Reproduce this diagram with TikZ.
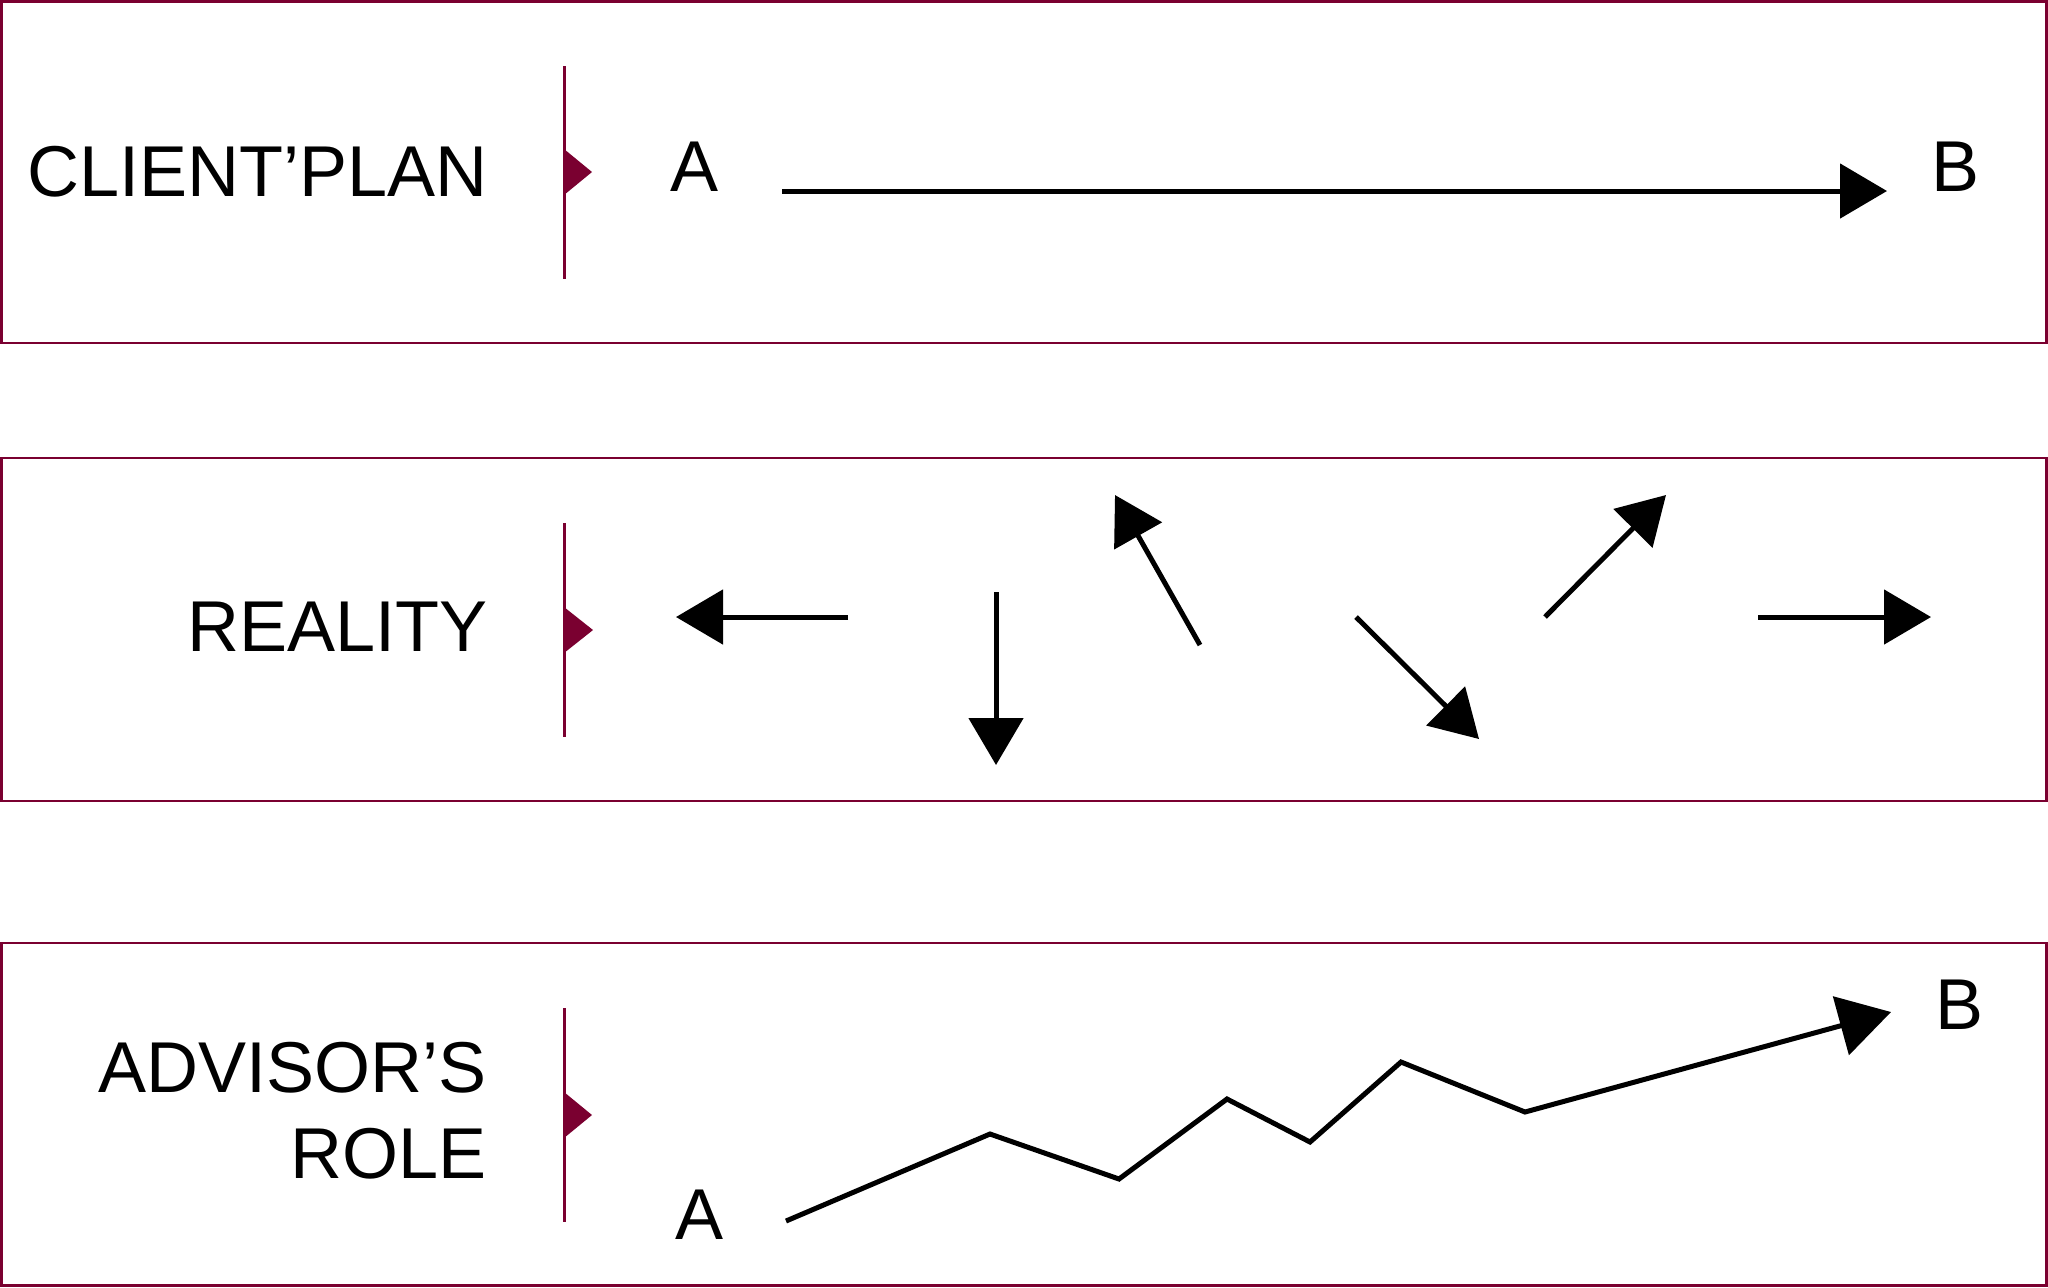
\documentclass[tikz,border=0pt]{standalone}
\usepackage{fontspec}
\setmainfont{Liberation Sans}
\usetikzlibrary{arrows.meta}
\definecolor{maroon}{RGB}{122,0,48}
\begin{document}
\begin{tikzpicture}[x=0.5pt,y=-0.5pt,
  panel/.style={draw=maroon, line width=1.25pt},
  divider/.style={draw=maroon, line width=1.5pt},
  marker/.style={fill=maroon},
  lbl/.style={font=\fontsize{36}{43}\selectfont, inner sep=0pt, text=black},
  arr/.style={line width=2.5pt, -{Triangle[length=23.5pt,width=27pt]}},
  bigarr/.style={line width=2.5pt, line join=miter, -{Triangle[length=26pt,width=30pt]}}]
\useasboundingbox (0,0) rectangle (2048,1287);
% panels
\draw[panel] (1.5,1.5) rectangle (2046.5,343);
\draw[panel] (1.5,458) rectangle (2046.5,801);
\draw[panel] (1.5,943) rectangle (2046.5,1285.5);
% dividers
\coordinate (d1t) at (564,66);   \coordinate (d1b) at (564,279);
\coordinate (d2t) at (564,523);  \coordinate (d2b) at (564,737);
\coordinate (d3t) at (564,1008); \coordinate (d3b) at (564,1222);
\draw[divider] (d1t) -- (d1b);
\draw[divider] (d2t) -- (d2b);
\draw[divider] (d3t) -- (d3b);
\fill[marker] (564,149) -- (592,172) -- (564,195) -- cycle;
\fill[marker] (564,607) -- (593,630) -- (564,653) -- cycle;
\fill[marker] (564,1092) -- (592,1115) -- (564,1138) -- cycle;
% labels
\node[lbl, anchor=base west] (plan) at (27,196) {CLIENT’PLAN};
\node[lbl, anchor=base east] (reality) at (488,651) {REALITY};
\node[lbl, anchor=base east] (advisor) at (487,1092) {ADVISOR’S};
\node[lbl, anchor=base east] (role) at (487,1178) {ROLE};
\node[lbl, anchor=base west] (a1) at (670,191) {A};
\node[lbl, anchor=base west] (b1) at (1931,191) {B};
\node[lbl, anchor=base west] (a3) at (675,1239) {A};
\node[lbl, anchor=base west] (b3) at (1935,1029) {B};
% top arrow
\coordinate (s1) at (782,191); \coordinate (e1) at (1887,191);
\draw[arr] (s1) -- (e1);
% middle arrows
\coordinate (l0) at (848,617);   \coordinate (l1) at (676,617);
\coordinate (dn0) at (996,592);  \coordinate (dn1) at (996,765);
\coordinate (ul0) at (1200,645); \coordinate (ul1) at (1115,495);
\coordinate (dr0) at (1356,617); \coordinate (dr1) at (1479,739);
\coordinate (ur0) at (1545,617); \coordinate (ur1) at (1666,495);
\coordinate (r0) at (1758,617);  \coordinate (r1) at (1931,617);
\draw[arr] (l0) -- (l1);
\draw[arr] (dn0) -- (dn1);
\draw[arr] (ul0) -- (ul1);
\draw[arr] (dr0) -- (dr1);
\draw[arr] (ur0) -- (ur1);
\draw[arr] (r0) -- (r1);
% bottom zigzag
\coordinate (z0) at (786,1221);
\coordinate (z1) at (990,1134);
\coordinate (z2) at (1119,1179);
\coordinate (z3) at (1227,1099);
\coordinate (z4) at (1310,1142);
\coordinate (z5) at (1401,1062);
\coordinate (z6) at (1525,1112);
\coordinate (z7) at (1891,1012);
\draw[bigarr] (z0) -- (z1) -- (z2) -- (z3) -- (z4) -- (z5) -- (z6) -- (z7);
\end{tikzpicture}
\end{document}
